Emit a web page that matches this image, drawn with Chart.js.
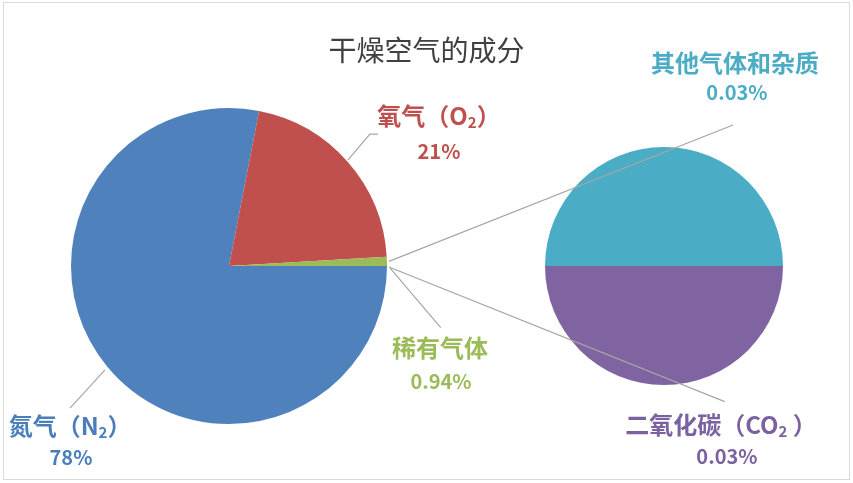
<!DOCTYPE html>
<html>
<head>
<meta charset="utf-8">
<script src="https://cdn.jsdelivr.net/npm/chart.js@4.4.1/dist/chart.umd.min.js"></script>
<style>
  html, body { margin: 0; padding: 0; background: #fff; }
  #wrap { position: relative; width: 853px; height: 483px; }
  #sub { position: absolute; left: 545px; top: 147px; }
  #main { position: absolute; left: 0; top: 0; }
</style>
</head>
<body>
<div id="wrap">
  <canvas id="sub" width="238" height="238"></canvas>
  <canvas id="main" width="853" height="483"></canvas>
</div>
<script>
const titleText = '干燥空气的成分';

const mainLabels = ['氮气（N₂）', '氧气（O₂）', '稀有气体'];
const mainValues = [78, 21, 0.94];
const mainPercents = ['78%', '21%', '0.94%'];

const subLabels = ['其他气体和杂质', '二氧化碳（CO₂ ）'];
const subValues = [0.03, 0.03];
const subPercents = ['0.03%', '0.03%'];

const mainColors = ['#4F81BD', '#C0504D', '#9BBB59'];
const subColors = ['#4BACC6', '#8064A2'];
const mainTextColors = ['#4A7EBB', '#C0504D', '#9BBB59'];
const subTextColors = ['#4BACC6', '#7A62A0'];

const cjk = '"Noto Sans CJK SC", "Noto Sans", sans-serif';
const lineColor = '#A6A6A6';

// label anchors, in units of pie radius from pie centre: [nameX, nameY, pctX, pctY]
const mainLabelPos = [[-1.006, 1.013, -1.0, 1.209], [1.329, -0.949, 1.329, -0.728], [1.335, 0.519, 1.342, 0.728]];
const subLabelPos = [[0.597, -1.706, 0.613, -1.462], [0.479, 1.336, 0.529, 1.597]];
// leader lines for main pie labels (radius units)
const leaders = [
  [[-0.785, 0.658], [-1.006, 0.899]],
  [[0.753, -0.671], [0.892, -0.835], [0.943, -0.835]],
  [[1.02, 0.013], [1.34, 0.39]]
];

// draw text with "₂" rendered as a small lowered 2
function drawRich(ctx, text, cx, cy, size, color) {
  const parts = text.split('₂');
  const pieces = [];
  parts.forEach((p, i) => {
    if (p) pieces.push({ t: p, sub: false });
    if (i < parts.length - 1) pieces.push({ t: '2', sub: true });
  });
  const big = 'bold ' + size + 'px ' + cjk;
  const small = 'bold ' + Math.round(size * 0.62) + 'px ' + cjk;
  let total = 0;
  pieces.forEach(pc => { ctx.font = pc.sub ? small : big; pc.w = ctx.measureText(pc.t).width; total += pc.w; });
  let x = cx - total / 2;
  ctx.fillStyle = color;
  ctx.textAlign = 'left';
  ctx.textBaseline = 'middle';
  pieces.forEach(pc => {
    ctx.font = pc.sub ? small : big;
    ctx.fillText(pc.t, x, pc.sub ? cy + size * 0.28 : cy);
    x += pc.w;
  });
}

const subChart = new Chart(document.getElementById('sub'), {
  type: 'pie',
  data: {
    labels: subLabels,
    datasets: [{ data: subValues, backgroundColor: subColors, borderWidth: 0 }]
  },
  options: {
    responsive: false,
    animation: false,
    rotation: -90,
    layout: { padding: 0 },
    plugins: { legend: { display: false }, tooltip: { enabled: false } }
  }
});

const overlay = {
  id: 'overlay',
  afterDraw(chart) {
    const ctx = chart.ctx;
    const arcs = chart.getDatasetMeta(0).data;
    const cx = arcs[0].x, cy = arcs[0].y, r = arcs[0].outerRadius;
    ctx.save();

    // frame
    ctx.strokeStyle = '#D9D9D9';
    ctx.lineWidth = 1;
    ctx.strokeRect(3.5, 2.5, chart.width - 7, chart.height - 6);

    // title
    ctx.fillStyle = '#404040';
    ctx.font = '28px ' + cjk;
    ctx.textAlign = 'center';
    ctx.textBaseline = 'middle';
    ctx.fillText(titleText, chart.width / 2, 50);

    // leader lines
    ctx.strokeStyle = lineColor;
    ctx.lineWidth = 1.2;
    leaders.forEach(pts => {
      ctx.beginPath();
      pts.forEach((p, i) => {
        const x = cx + p[0] * r, y = cy + p[1] * r;
        if (i === 0) ctx.moveTo(x, y); else ctx.lineTo(x, y);
      });
      ctx.stroke();
    });

    // connectors to the secondary pie
    const sArc = subChart.getDatasetMeta(0).data[0];
    const sEl = subChart.canvas;
    const sx = sEl.offsetLeft + sArc.x, sy = sEl.offsetTop + sArc.y, sr = sArc.outerRadius;
    const g = arcs[2];
    const mid = (g.startAngle + g.endAngle) / 2;
    const p1 = [cx + Math.cos(mid) * r + 2, cy + Math.sin(mid) * r];
    const p2 = [cx + Math.cos(g.endAngle) * r + 2, cy + Math.sin(g.endAngle) * r + 1];
    ctx.beginPath();
    ctx.moveTo(p1[0], p1[1]);
    ctx.lineTo(sx + 0.58 * sr, sy - 1.185 * sr);
    ctx.moveTo(p2[0], p2[1]);
    ctx.lineTo(sx + 0.51 * sr, sy + 1.14 * sr);
    ctx.stroke();

    // main labels
    mainLabels.forEach((lab, i) => {
      const q = mainLabelPos[i];
      drawRich(ctx, lab, cx + q[0] * r, cy + q[1] * r, 24, mainTextColors[i]);
      drawRich(ctx, mainPercents[i], cx + q[2] * r, cy + q[3] * r, 20, mainTextColors[i]);
    });
    // secondary labels
    subLabels.forEach((lab, i) => {
      const q = subLabelPos[i];
      drawRich(ctx, lab, sx + q[0] * sr, sy + q[1] * sr, 24, subTextColors[i]);
      drawRich(ctx, subPercents[i], sx + q[2] * sr, sy + q[3] * sr, 20, subTextColors[i]);
    });
    ctx.restore();
  }
};

new Chart(document.getElementById('main'), {
  type: 'pie',
  data: {
    labels: mainLabels,
    datasets: [{ data: mainValues, backgroundColor: mainColors, borderWidth: 0 }]
  },
  options: {
    responsive: false,
    animation: false,
    rotation: 90,
    layout: { padding: { left: 71, right: 466, top: 108, bottom: 59 } },
    plugins: { legend: { display: false }, tooltip: { enabled: false } }
  },
  plugins: [overlay]
});
</script>
</body>
</html>
